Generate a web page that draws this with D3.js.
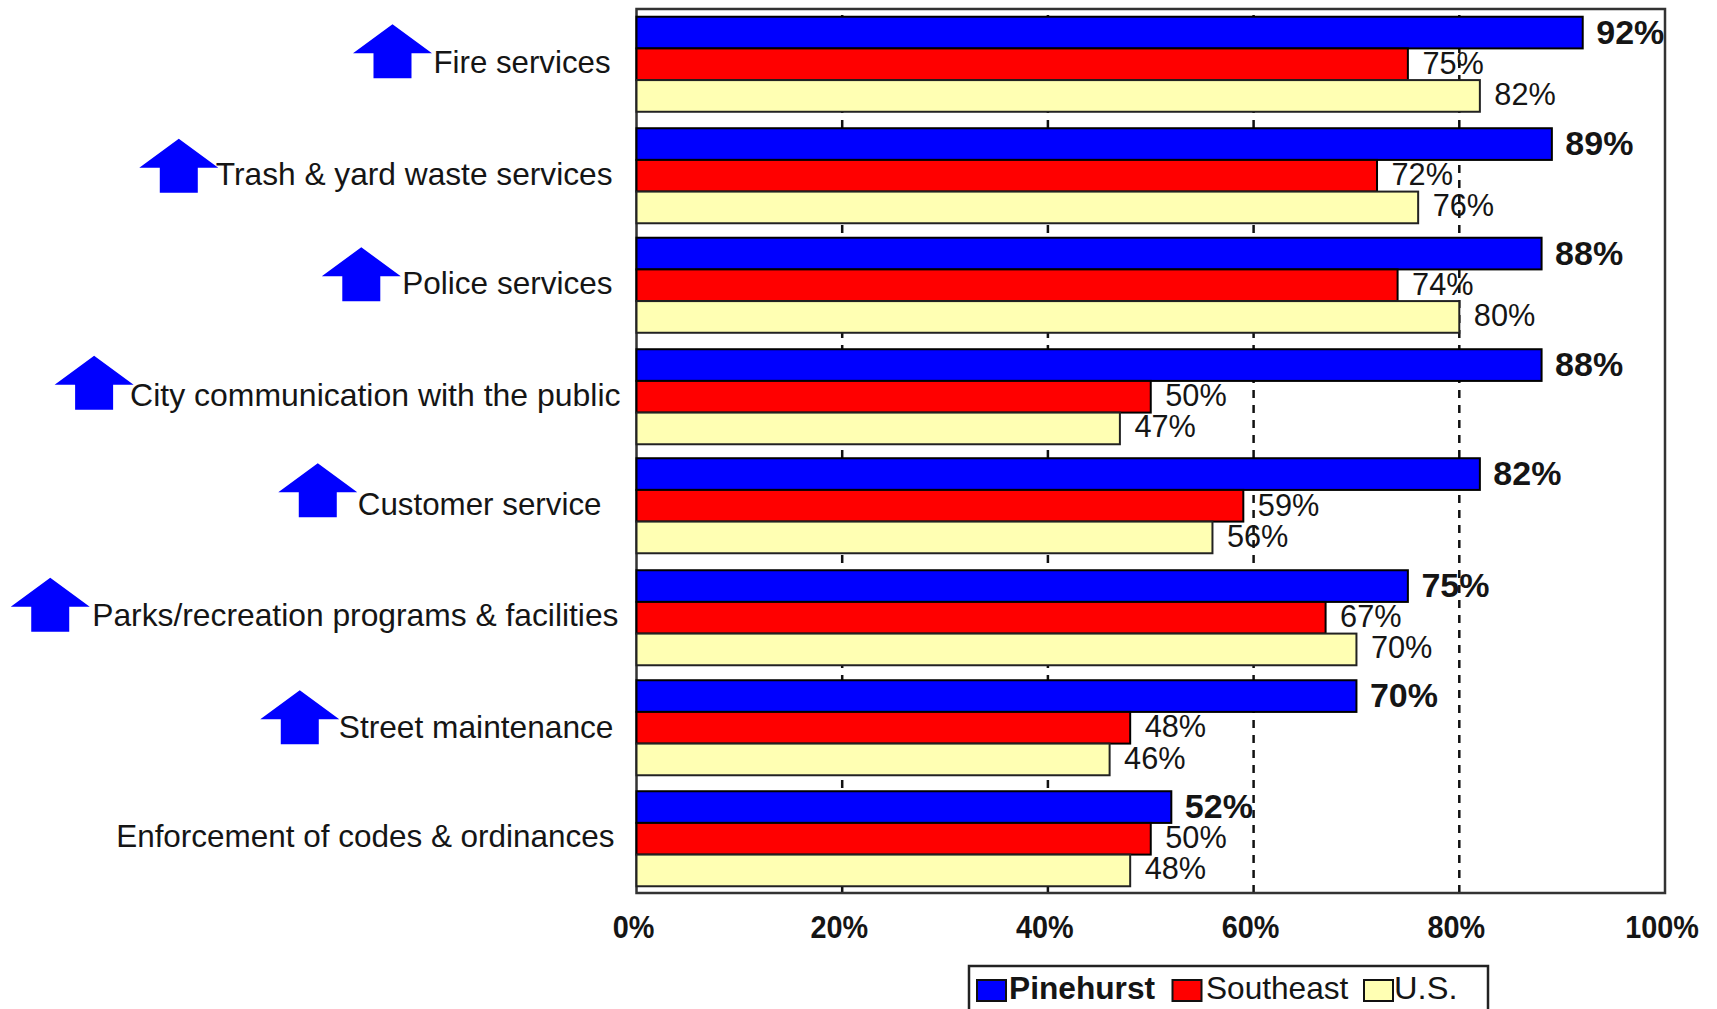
<!DOCTYPE html>
<html><head><meta charset="utf-8">
<style>html,body{margin:0;padding:0;background:#fff;overflow:hidden}svg{display:block}text{font-family:"Liberation Sans",Arial,sans-serif;fill:#151515}</style>
<script src="https://cdn.jsdelivr.net/npm/d3@7"></script>
</head><body><script>
const categories=["Fire services","Trash & yard waste services","Police services","City communication with the public","Customer service","Parks/recreation programs & facilities","Street maintenance","Enforcement of codes & ordinances"];
const pinehurst=[92,89,88,88,82,75,70,52];
const southeast=[75,72,74,50,59,67,48,50];
const us=[82,76,80,47,56,70,46,48];
const improved=[true,true,true,true,true,true,true,false];
const seriesNames=["Pinehurst","Southeast","U.S."];
const xTicks=[0,20,40,60,80,100];

// layout only
const W=1717,H=1009,M={l:636.5,r:1665,t:9,b:893};
const labelGap=[26,24,24,16,35,18,23,22];
const labelDy=[-2,0,-2,0,-2,-1,0,-1];
const labelFit=[.976,.99,.985,.999,.979,.993,.99,.983];
const groupDy=[0,1,0,1,-.5,1,.5,1];
const arrowDy=[0,4,2,0,-3,1,3,0];
const arrowDx=[-2,2,-2,3,-1,-3,0,0];
const colors=["#0000ff","#ff0000","#ffffb3"];
const strokes=["#000","#000","#222"];

const svg=d3.select("body").append("svg").attr("width",W).attr("height",H);
const x=d3.scaleLinear().domain([0,100]).range([M.l,M.r]);
const y=d3.scaleBand().domain(categories).range([M.t,M.b]).paddingInner(.14).paddingOuter(.07);
const y1=d3.scaleBand().domain(seriesNames).range([0,y.bandwidth()]);
const fit=(sel,f)=>sel.each(function(d,i){const k=typeof f==="function"?f(d,i):f;const t=this.getComputedTextLength();d3.select(this).attr("textLength",t*k).attr("lengthAdjust","spacingAndGlyphs")});

const axis=d3.axisBottom(x).tickValues(xTicks).tickFormat(d=>d+"%").tickSize(-(M.b-M.t)).tickPadding(26).offset(0);
const ax=svg.append("g").attr("transform",`translate(0,${M.b})`).call(axis);
ax.select(".domain").remove();
ax.selectAll(".tick line").attr("stroke","#111").attr("stroke-width",2.5).attr("stroke-dasharray","8 7")
  .filter(d=>d===0||d===100).remove();
ax.selectAll(".tick text").attr("font-size",32).attr("font-weight","700").attr("fill","#111").attr("dy",0).attr("y",45).attr("x",-3).call(fit,.9);
svg.append("rect").attr("x",M.l).attr("y",M.t).attr("width",M.r-M.l).attr("height",M.b-M.t).attr("fill","none").attr("stroke","#333").attr("stroke-width",2.5);

const series=[pinehurst,southeast,us];
series.forEach((vals,s)=>{
  const name=seriesNames[s];
  svg.append("g").selectAll("rect").data(categories).join("rect")
    .attr("x",x(0)).attr("y",(d,i)=>y(d)+y1(name)+groupDy[i])
    .attr("width",(d,i)=>x(vals[i])-x(0)).attr("height",y1.bandwidth())
    .attr("fill",colors[s]).attr("stroke",strokes[s]).attr("stroke-width",2);
});
series.forEach((vals,s)=>{
  const name=seriesNames[s];
  svg.append("g").selectAll("text").data(categories).join("text")
    .attr("x",(d,i)=>x(vals[i])+(s===0?13.5:14.5))
    .attr("y",(d,i)=>y(d)+y1(name)+y1.bandwidth()/2+(s===0?11:9.5)+groupDy[i]*.5)
    .attr("font-size",s===0?34:32).attr("font-weight",s===0?"700":"400")
    .attr("fill",s===0?"#000":"#222")
    .text((d,i)=>vals[i]+"%").call(fit,s===0?1:.96);
});

const lab=svg.append("g").selectAll("text").data(categories).join("text")
  .attr("text-anchor","end").attr("font-size",32)
  .attr("x",(d,i)=>M.l-labelGap[i])
  .attr("y",(d,i)=>y(d)+y.bandwidth()/2+10.5+labelDy[i])
  .text(d=>d).call(fit,(d,i)=>labelFit[i]);
const arrowPath=d3.path();
arrowPath.moveTo(0,0);arrowPath.lineTo(39.5,29);arrowPath.lineTo(19,29);arrowPath.lineTo(19,54);arrowPath.lineTo(-19,54);arrowPath.lineTo(-19,29);arrowPath.lineTo(-39.5,29);arrowPath.closePath();
lab.each(function(d,i){
  if(!improved[i])return;
  const right=M.l-labelGap[i]-this.getComputedTextLength();
  svg.append("path").attr("d",arrowPath.toString()).attr("fill","#0000ff")
    .attr("transform",`translate(${right-39+arrowDx[i]},${y(d)+y.bandwidth()/2-40+arrowDy[i]})`);
});

const lg=svg.append("g");
lg.append("rect").attr("x",969).attr("y",966).attr("width",519).attr("height",60).attr("fill","#fff").attr("stroke","#222").attr("stroke-width",2.5);
const swX=[977,1172.5,1364],txX=[1009,1206,1394],txW=[.99,.988,1.02];
seriesNames.forEach((n,s)=>{
  lg.append("rect").attr("x",swX[s]).attr("y",980).attr("width",29).attr("height",21).attr("fill",colors[s]).attr("stroke","#111").attr("stroke-width",2);
  lg.append("text").attr("x",txX[s]).attr("y",999).attr("font-size",32).attr("font-weight",s===0?"700":"400").attr("fill","#151515").text(n).call(fit,txW[s]);
});
</script></body></html>
